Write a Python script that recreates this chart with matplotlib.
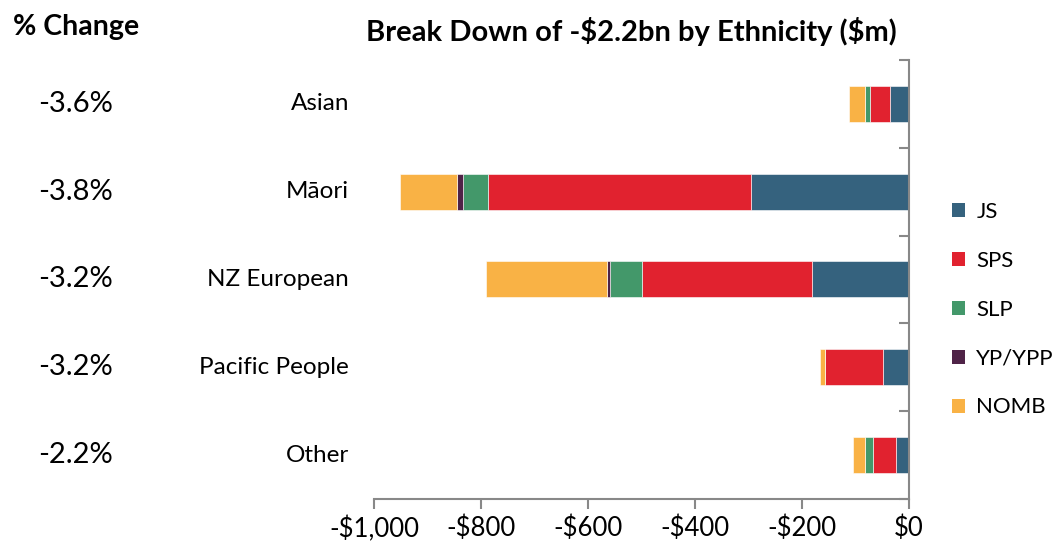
import numpy as np
import matplotlib.pyplot as plt
from matplotlib.patches import Patch
from matplotlib.transforms import blended_transform_factory

plt.rcParams["font.family"] = ["Lato", "DejaVu Sans"]

groups = ["Asian", "Māori", "NZ European", "Pacific People", "Other"]
pct_change = ["-3.6%", "-3.8%", "-3.2%", "-3.2%", "-2.2%"]

# $m reduction per benefit type (drawn leftward from zero)
js = [34, 294, 180, 47, 24]
sps = [38, 493, 319, 109, 43]
slp = [9, 46, 59, 0, 15]
yp = [1, 11, 7, 0, 0]
nomb = [30, 107, 226, 10, 22]

series = [("JS", js, "#35627E"), ("SPS", sps, "#E1222F"), ("SLP", slp, "#43986A"),
          ("YP/YPP", yp, "#4F2347"), ("NOMB", nomb, "#F9B245")]

fig = plt.figure(figsize=(10.53, 5.47), dpi=100)
ax = fig.add_axes([0.3552, 0.0878, 0.5076, 0.8025])

y = np.arange(len(groups))
left = np.zeros(len(groups))
for name, vals, col in series:
    vals = np.array(vals, dtype=float)
    ax.barh(y, -vals, left=left, height=0.41, color=col, edgecolor="white", linewidth=0.4)
    left -= vals

ticks = np.arange(-1000, 1, 200)
ax.set_xlim(-1000, 0)
ax.set_ylim(len(groups) - 0.5, -0.5)
ax.set_xticks(ticks)
ax.set_xticklabels([r"\$0" if v == 0 else f"-\\${-v:,}" for v in ticks], fontsize=18.5)
ax.set_yticks(np.arange(-0.5, len(groups), 1.0))
ax.set_yticklabels([])
ax.yaxis.tick_right()
ax.tick_params(axis="y", direction="in", length=7, color="#888888", width=1.5)
ax.tick_params(axis="x", direction="out", length=7, color="#888888", width=1.5, pad=5)

for s in ["top", "left"]:
    ax.spines[s].set_visible(False)
for s in ["right", "bottom"]:
    ax.spines[s].set_color("#888888")
    ax.spines[s].set_linewidth(1.5)

tr = blended_transform_factory(fig.transFigure, ax.transData)
for i, (g, p) in enumerate(zip(groups, pct_change)):
    ax.text(0.3314, i, g, transform=tr, ha="right", va="center", fontsize=17.5)
    ax.text(0.072, i, p, transform=tr, ha="center", va="center", fontsize=21)

fig.text(0.012, 0.951, "% Change", ha="left", va="center", fontsize=20.5, fontweight="bold")
fig.text(0.600, 0.943, r"Break Down of -\$2.2bn by Ethnicity (\$m)", ha="center", va="center",
         fontsize=21, fontweight="bold")

handles = [Patch(facecolor=c, label=n) for n, _, c in series]
fig.legend(handles=handles, loc="upper left", bbox_to_anchor=(0.904, 0.631), frameon=False,
           fontsize=16, handlelength=0.6, handleheight=0.6, handletextpad=0.5, labelspacing=1.3,
           borderaxespad=0, borderpad=0)

fig.savefig("out.png", dpi=100)
